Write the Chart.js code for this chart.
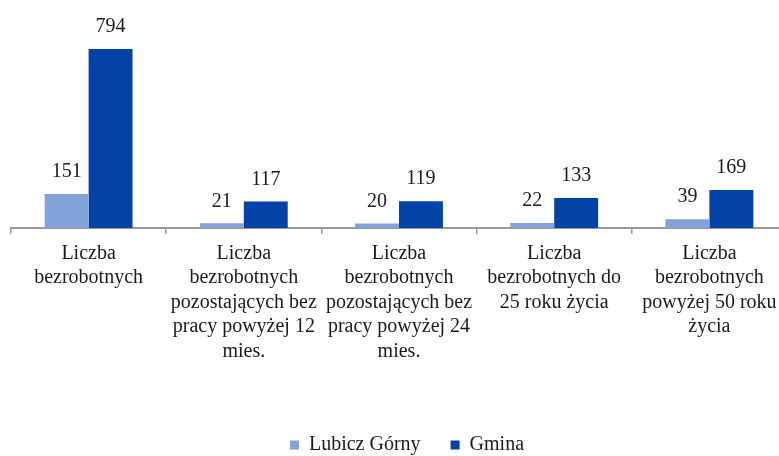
<!DOCTYPE html>
<html>
<head>
<meta charset="utf-8">
<script src="https://cdn.jsdelivr.net/npm/chart.js@4/dist/chart.umd.min.js"></script>
<style>
  html, body { margin: 0; padding: 0; overflow: hidden; background: #fff; }
  #wrap { width: 800px; height: 456px; }
</style>
</head>
<body>
<div id="wrap"><canvas id="chart"></canvas></div>
<script>
var categories = [
  ["Liczba", "bezrobotnych"],
  ["Liczba", "bezrobotnych", "pozostających bez", "pracy powyżej 12", "mies."],
  ["Liczba", "bezrobotnych", "pozostających bez", "pracy powyżej 24", "mies."],
  ["Liczba", "bezrobotnych do", "25 roku życia"],
  ["Liczba", "bezrobotnych", "powyżej 50 roku", "życia"]
]
var seriesNames = ["Lubicz Górny", "Gmina"]
var lubiczValues = [151, 21, 20, 22, 39]
var gminaValues = [794, 117, 119, 133, 169]

var serif = '"Liberation Serif", "DejaVu Serif", serif'

// numbers above bars
var valueLabels = {
  id: "valueLabels",
  afterDatasetsDraw: function(chart) {
    var ctx = chart.ctx
    ctx.save()
    ctx.font = "20px " + serif
    ctx.fillStyle = "#1a1a1a"
    ctx.textAlign = "center"
    ctx.textBaseline = "middle"
    chart.data.datasets.forEach(function(ds, i) {
      chart.getDatasetMeta(i).data.forEach(function(bar, j) {
        ctx.fillText(ds.data[j], bar.x, bar.y - 22)
      })
    })
    ctx.restore()
  }
}

// nudge the legend to where the original sits
var legendShift = {
  id: "legendShift",
  afterLayout: function(chart) {
    var lg = chart.legend
    var dy = 445 - (lg.top + 30 + 10)
    lg.top += dy
    lg.bottom += dy
    lg.left += 8
    lg.right += 8
  }
}

new Chart(document.getElementById("chart"), {
  type: "bar",
  data: {
    labels: categories,
    datasets: [{
      label: seriesNames[0],
      data: lubiczValues,
      backgroundColor: "#82a3d9"
    }, {
      label: seriesNames[1],
      data: gminaValues,
      backgroundColor: "#0343a8"
    }]
  },
  options: {
    responsive: true,
    maintainAspectRatio: false,
    animation: false,
    layout: { padding: { left: 11, right: 13, top: 25, bottom: 0 } },
    datasets: {
      bar: { categoryPercentage: 0.566, barPercentage: 1 }
    },
    scales: {
      x: {
        grid: { display: true, drawOnChartArea: false, tickLength: 6, color: "#999", lineWidth: 1.5 },
        border: { color: "#999", width: 2 },
        ticks: {
          maxRotation: 0,
          autoSkip: false,
          padding: 7,
          color: "#1a1a1a",
          font: { family: serif, size: 20, lineHeight: 24.5 / 20 }
        },
        afterFit: function(scale) { scale.height = 168 }
      },
      y: {
        display: false,
        min: 0,
        max: 900
      }
    },
    plugins: {
      legend: {
        position: "bottom",
        labels: {
          boxWidth: 9,
          boxHeight: 9,
          padding: 30,
          color: "#1a1a1a",
          font: { family: serif, size: 20 }
        }
      },
      tooltip: { enabled: false }
    }
  },
  plugins: [valueLabels, legendShift]
})
</script>
</body>
</html>
